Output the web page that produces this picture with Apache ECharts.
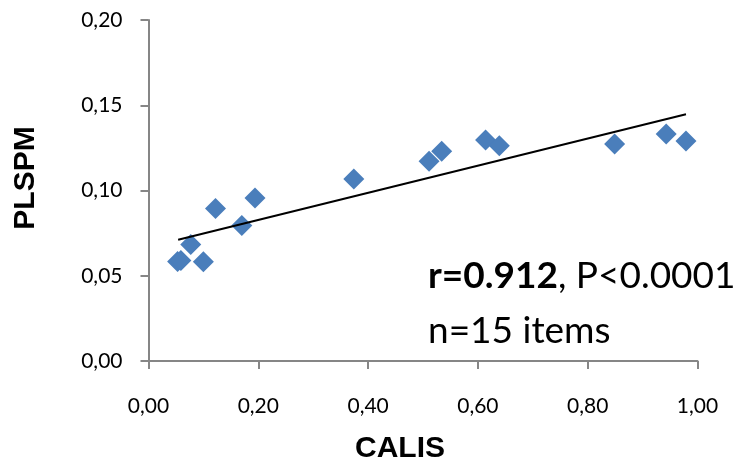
<!DOCTYPE html>
<html>
<head>
<meta charset="utf-8">
<script src="https://cdn.jsdelivr.net/npm/echarts@6/dist/echarts.min.js"></script>
<style>
html,body{margin:0;padding:0;background:#fff;}
#chart{width:744px;height:462px;}
</style>
</head>
<body>
<div id="chart"></div>
<script>
// Data
const calis  = [0.053, 0.059, 0.077, 0.100, 0.122, 0.170, 0.194, 0.374, 0.511, 0.534, 0.614, 0.639, 0.849, 0.943, 0.979];
const plspm  = [0.0583, 0.0590, 0.0684, 0.0582, 0.0895, 0.0794, 0.0956, 0.1067, 0.1171, 0.1230, 0.1296, 0.1263, 0.1273, 0.1331, 0.1290];
const trendX = [0.054, 0.979];
const trendY = [0.0711, 0.1447];
const xTitle = 'CALIS';
const yTitle = 'PLSPM';
const statLine1Bold = 'r=0.912';
const statLine1Rest = ', P<0.0001';
const statLine2 = 'n=15 items';

const fmt = v => v.toFixed(2).replace('.', ',');
const chart = echarts.init(document.getElementById('chart'));
const axisGray = '#868686';
chart.setOption({
  animation: false,
  backgroundColor: '#ffffff',
  grid: {left: 148.5, right: 46.5, top: 20, bottom: 101},
  xAxis: {
    type: 'value', min: 0, max: 1, interval: 0.2,
    axisLine: {show: true, lineStyle: {color: axisGray, width: 2}},
    axisTick: {show: true, length: 8, lineStyle: {color: axisGray, width: 2}},
    splitLine: {show: false},
    axisLabel: {formatter: fmt, fontFamily: 'Lato', fontSize: 21, color: '#000', margin: 35}
  },
  yAxis: {
    type: 'value', min: 0, max: 0.2, interval: 0.05,
    axisLine: {show: true, lineStyle: {color: axisGray, width: 2}},
    axisTick: {show: true, length: 8, lineStyle: {color: axisGray, width: 2}},
    splitLine: {show: false},
    axisLabel: {formatter: fmt, fontFamily: 'Lato', fontSize: 21, color: '#000', margin: 26}
  },
  series: [
    {
      type: 'scatter',
      data: calis.map((x, i) => [x, plspm[i]]),
      symbol: 'diamond',
      symbolSize: [21, 21],
      itemStyle: {color: '#4a7ebb', opacity: 1},
      z: 2
    },
    {
      type: 'line',
      data: trendX.map((x, i) => [x, trendY[i]]),
      showSymbol: false,
      symbol: 'none',
      lineStyle: {color: '#000', width: 2},
      silent: true,
      z: 3
    }
  ],
  graphic: [
    {type: 'text', x: 26, y: 178, rotation: Math.PI / 2,
     style: {text: yTitle, font: 'bold 30px "Liberation Sans", Arial, sans-serif', fill: '#000', align: 'center', verticalAlign: 'middle'}},
    {type: 'text', x: 400, y: 449,
     style: {text: xTitle, font: 'bold 30px "Liberation Sans", Arial, sans-serif', fill: '#000', align: 'center', verticalAlign: 'middle'}},
    {type: 'text', x: 428, y: 276,
     style: {text: '{b|' + statLine1Bold + '}{n|' + statLine1Rest + '}', align: 'left', verticalAlign: 'middle',
       rich: {b: {fontFamily: 'Lato', fontWeight: 'bold', fontSize: 37, fill: '#000', color: '#000'},
              n: {fontFamily: 'Lato', fontSize: 37, fill: '#000', color: '#000'}}}},
    {type: 'text', x: 428, y: 331,
     style: {text: statLine2, font: '37px Lato', fill: '#000', align: 'left', verticalAlign: 'middle'}}
  ]
});
</script>
</body>
</html>
